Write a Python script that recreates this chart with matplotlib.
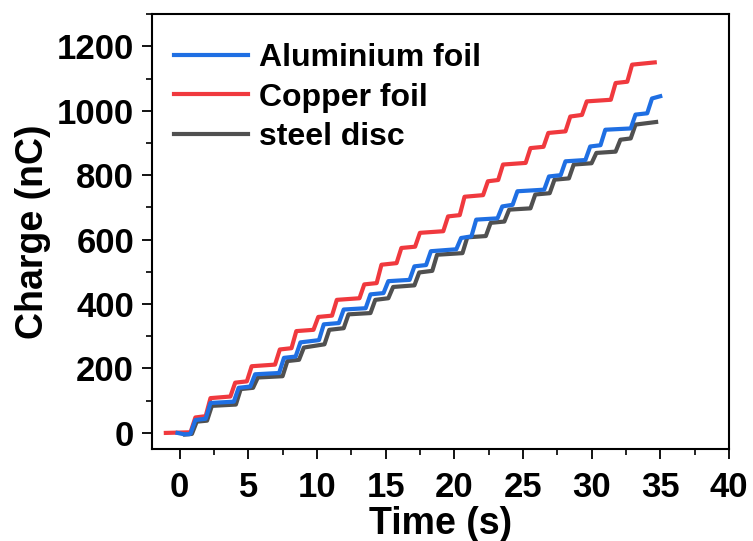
import matplotlib.pyplot as plt
from matplotlib.ticker import MultipleLocator

plt.rcParams['font.family'] = 'Liberation Sans'
plt.rcParams['font.weight'] = 'bold'

# staircase vertices (time in s, charge in nC)
al_t = [-0.15, 0.3, 0.7, 0.8, 1.15, 1.9, 2.25, 3.95, 4.3, 5.15, 5.5, 7.25, 7.6, 8.45, 8.8,
        10.15, 10.5, 11.6, 11.95, 13.55, 13.9, 14.85, 15.2, 16.75, 17.1, 17.95, 18.3, 20.15,
        20.5, 21.25, 21.6, 23.15, 23.5, 24.25, 24.6, 26.55, 26.9, 27.75, 28.1, 29.55, 29.9,
        30.65, 31.0, 32.85, 33.2, 34.05, 34.4, 35.0]
al_q = [0, -4, -4, -2, 40, 44, 93, 97, 140, 144, 182, 186, 233, 237, 281,
        288, 337, 341, 383, 387, 430, 434, 471, 475, 517, 521, 564, 570,
        605, 610, 662, 666, 703, 708, 750, 755, 796, 800, 843, 847, 889,
        893, 941, 945, 988, 992, 1038, 1045]

cu_t = [-1.0, 0.8, 1.15, 1.9, 2.25, 3.7, 4.05, 4.9, 5.25, 6.95, 7.3, 8.15, 8.5, 9.75, 10.1,
        11.1, 11.45, 13.1, 13.45, 14.35, 14.7, 15.8, 16.15, 17.15, 17.5, 19.2, 19.55, 20.4,
        20.75, 22.1, 22.45, 23.2, 23.55, 25.2, 25.55, 26.5, 26.85, 28.1, 28.45, 29.3, 29.65,
        31.4, 31.75, 32.6, 32.95, 34.6]
cu_q = [0, 2, 48, 52, 108, 113, 156, 160, 207, 212, 259, 263, 316, 320, 360,
        364, 413, 418, 461, 465, 522, 527, 574, 578, 621, 626, 672, 676,
        733, 738, 781, 785, 833, 838, 884, 888, 931, 936, 982, 987, 1029,
        1034, 1086, 1090, 1143, 1150]

st_t = [0.4, 0.9, 1.25, 2.0, 2.35, 4.1, 4.45, 5.35, 5.7, 7.5, 7.85, 8.7, 9.05, 10.55, 10.9,
        11.95, 12.3, 13.9, 14.25, 15.2, 15.55, 17.1, 17.45, 18.4, 18.75, 20.6, 20.95, 22.3,
        22.65, 23.65, 24.0, 25.55, 25.9, 26.95, 27.3, 28.35, 28.7, 30.0, 30.35, 31.75, 32.1,
        32.85, 33.2, 34.7]
st_q = [-5, -3, 35, 38, 84, 88, 136, 140, 172, 176, 223, 227, 265, 275, 320,
        325, 368, 372, 413, 418, 453, 458, 498, 503, 553, 558, 607, 611,
        652, 656, 693, 697, 740, 744, 786, 790, 833, 837, 869, 873, 910,
        914, 957, 965]

fig = plt.figure(figsize=(7.53, 5.41), dpi=100)
ax = fig.add_axes([0.202, 0.170, 0.766, 0.804])

lw = 3.0
ax.plot(al_t, al_q, color='#1f6fe3', lw=lw, label='Aluminium foil', zorder=3)
ax.plot(cu_t, cu_q, color='#f0393e', lw=lw, label='Copper foil', zorder=2)
ax.plot(st_t, st_q, color='#505050', lw=lw, label='steel disc', zorder=1)

ax.set_xlim(-2, 40)
ax.set_ylim(-50, 1300)
ax.xaxis.set_major_locator(MultipleLocator(5))
ax.xaxis.set_minor_locator(MultipleLocator(2.5))
ax.yaxis.set_major_locator(MultipleLocator(200))
ax.yaxis.set_minor_locator(MultipleLocator(100))

for s in ax.spines.values():
    s.set_linewidth(1.5)
ax.tick_params(which='major', length=7, width=1.3, labelsize=25)
ax.tick_params(axis='x', which='major', pad=9)
ax.tick_params(axis='y', which='major', pad=6)
ax.tick_params(which='minor', length=4, width=1.2)

ax.set_xlabel('Time (s)', fontsize=27, fontweight='bold', labelpad=1)
ax.set_ylabel('Charge (nC)', fontsize=27, fontweight='bold', labelpad=4)

leg = ax.legend(loc='upper left', frameon=False, fontsize=23, handlelength=2.3,
                handletextpad=0.35, labelspacing=0.3, borderaxespad=0.3,
                bbox_to_anchor=(0.0, 0.985))

fig.savefig('out.png', dpi=100)
